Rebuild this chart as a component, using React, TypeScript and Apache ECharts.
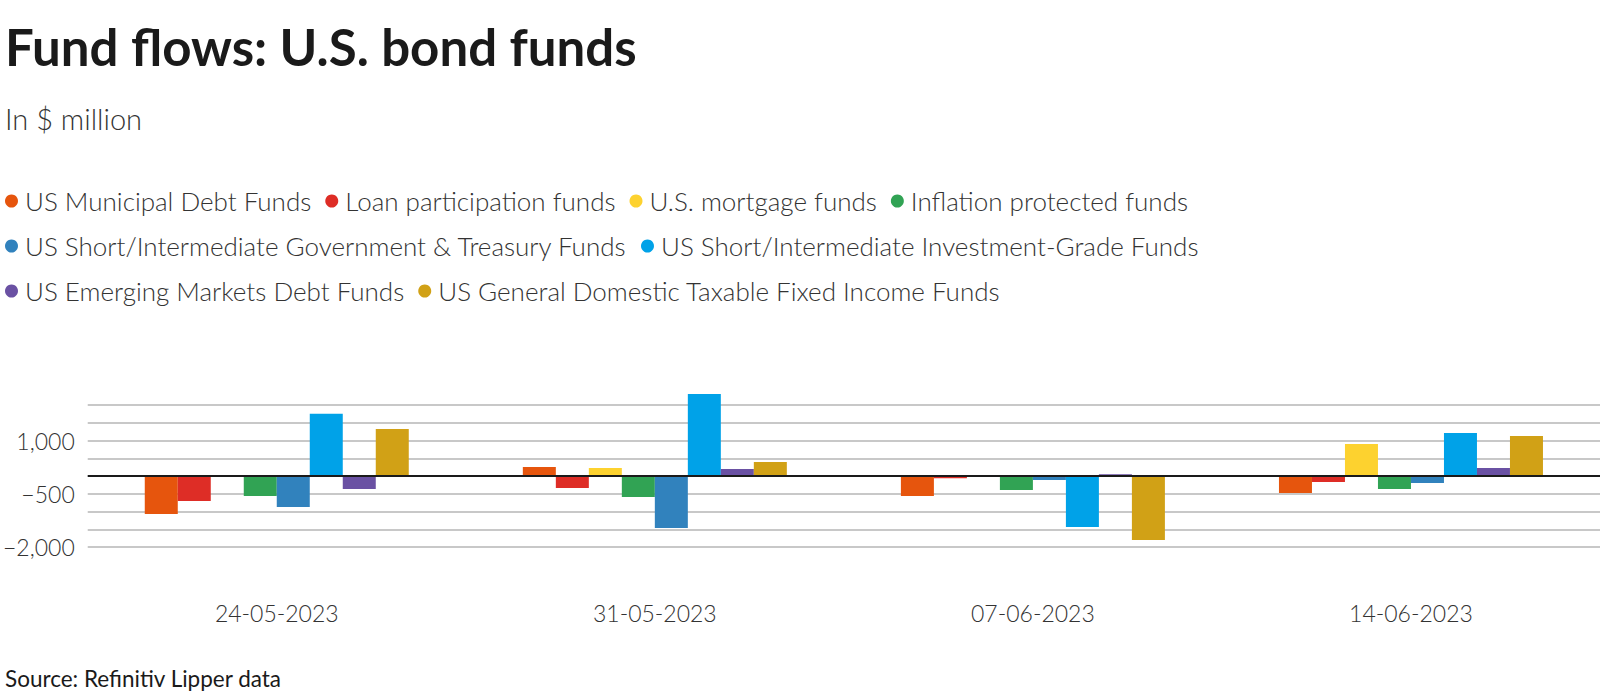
import React, { useEffect, useRef } from "react";
import * as echarts from "echarts";

const categories = ["24-05-2023", "31-05-2023", "07-06-2023", "14-06-2023"];

const seriesNames = [
  "US Municipal Debt Funds",
  "Loan participation funds",
  "U.S. mortgage funds",
  "Inflation protected funds",
  "US Short/Intermediate Government & Treasury Funds",
  "US Short/Intermediate Investment-Grade Funds",
  "US Emerging Markets Debt Funds",
  "US General Domestic Taxable Fixed Income Funds",
];

const municipalDebt = [-1070, 254, -563, -479];
const loanParticipation = [-704, -338, -60, -169];
const mortgage = [0, 225, 0, 901];
const inflationProtected = [-563, -592, -394, -366];
const govTreasury = [-873, -1465, -113, -197];
const investmentGrade = [1755, 2310, -1437, 1211];
const emergingMarkets = [-366, 197, 50, 225];
const generalTaxable = [1324, 394, -1803, 1127];

const seriesValues = [
  municipalDebt,
  loanParticipation,
  mortgage,
  inflationProtected,
  govTreasury,
  investmentGrade,
  emergingMarkets,
  generalTaxable,
];

const colors = [
  "#E6550D",
  "#DE2D26",
  "#FDD22F",
  "#31A354",
  "#3182BD",
  "#00A2E8",
  "#6A51A3",
  "#D1A116",
];

const yLabelTicks = [-2000, -500, 1000];

const FONT = "Lato, 'Noto Sans', sans-serif";

function fmt(v: number): string {
  const s = Math.abs(v).toLocaleString("en-US");
  return v < 0 ? "\u2212" + s : s;
}

export default function App() {
  const ref = useRef<HTMLDivElement>(null);

  useEffect(() => {
    if (!ref.current) return;
    const chart = echarts.init(ref.current, undefined, { renderer: "svg" });

    const legendCommon = {
      left: 0,
      icon: "circle",
      itemWidth: 13,
      itemHeight: 13,
      itemGap: 14,
      selectedMode: false,
      textStyle: {
        fontFamily: FONT,
        fontWeight: 300,
        fontSize: 26,
        color: "#333333",
        padding: [0, 0, 0, 2],
      },
    };

    const series: any[] = seriesNames.map((name, i) => ({
      name,
      type: "bar",
      data: seriesValues[i],
      barWidth: 33,
      barGap: "0%",
      clip: false,
      itemStyle: { color: colors[i] },
      ...(i === 0
        ? {
            markLine: {
              silent: true,
              symbol: ["none", "none"],
              label: { show: false },
              lineStyle: { color: "#1a1a1a", width: 2, type: "solid" },
              data: [{ yAxis: 0 }],
              z: 10,
            },
          }
        : {}),
    }));

    chart.setOption({
      animation: false,
      backgroundColor: "#ffffff",
      color: colors,
      title: [
        {
          text: "Fund flows: U.S. bond funds",
          left: 0,
          top: 16,
          textStyle: {
            fontFamily: FONT,
            fontWeight: 700,
            fontSize: 51,
            color: "#1a1a1a",
          },
        },
        {
          text: "In $ million",
          left: 0,
          top: 99,
          textStyle: {
            fontFamily: FONT,
            fontWeight: 300,
            fontSize: 29,
            color: "#333333",
          },
        },
        {
          text: "Source: Refinitiv Lipper data",
          left: 0,
          top: 662,
          textStyle: {
            fontFamily: FONT,
            fontWeight: 400,
            fontSize: 22.5,
            color: "#1a1a1a",
          },
        },
      ],
      legend: [
        { ...legendCommon, top: 183, data: seriesNames.slice(0, 4) },
        { ...legendCommon, top: 228, data: seriesNames.slice(4, 6) },
        { ...legendCommon, top: 273, data: seriesNames.slice(6, 8) },
      ],
      grid: { left: 86, right: 0, top: 405, bottom: 153, containLabel: false },
      xAxis: {
        type: "category",
        data: categories,
        axisLine: { show: false },
        axisTick: { show: false },
        axisLabel: {
          margin: 54,
          fontFamily: FONT,
          fontWeight: 300,
          fontSize: 23,
          color: "#333333",
        },
      },
      yAxis: {
        type: "value",
        min: -2000,
        max: 2000,
        interval: 500,
        axisLine: { show: false },
        axisTick: { show: false },
        splitLine: { show: true, lineStyle: { color: "#c8c8c8", width: 2 } },
        axisLabel: {
          margin: 13,
          fontFamily: FONT,
          fontWeight: 300,
          fontSize: 23,
          color: "#333333",
          formatter: (v: number) => (yLabelTicks.includes(v) ? fmt(v) : ""),
        },
      },
      series,
    });

    return () => chart.dispose();
  }, []);

  return (
    <div
      ref={ref}
      style={{ position: "absolute", left: 0, top: 0, width: 1600, height: 700 }}
    />
  );
}
